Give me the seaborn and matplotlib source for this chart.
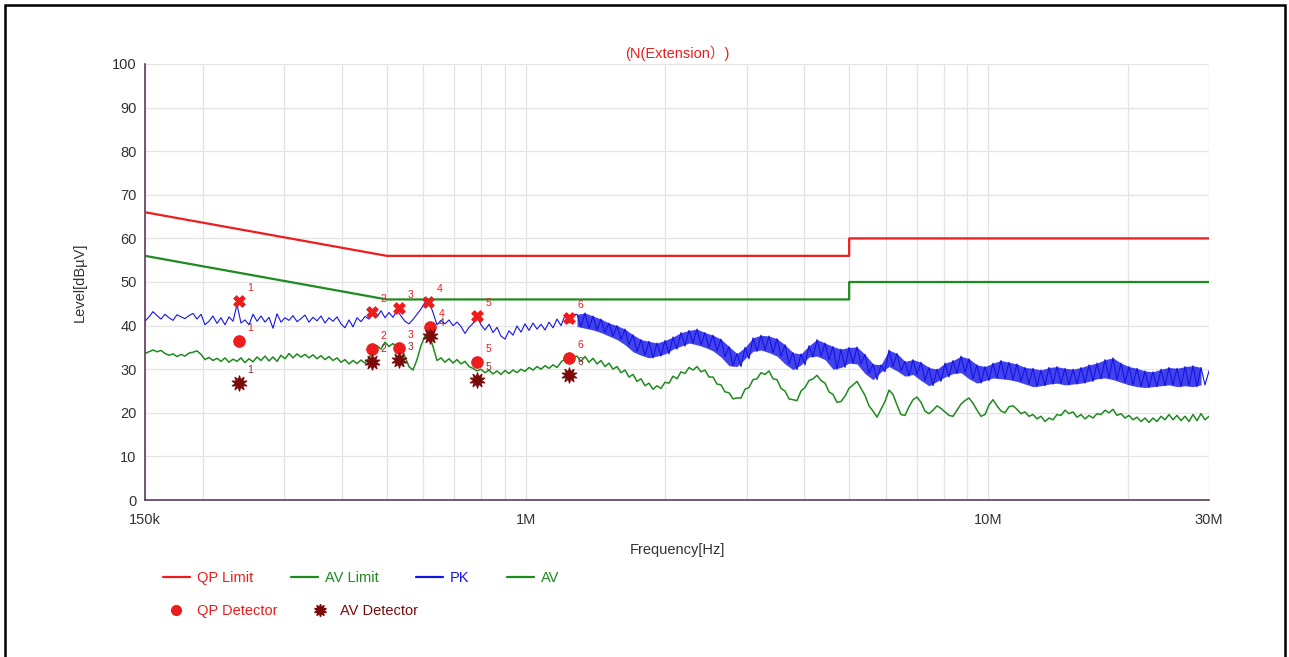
import numpy as np
import pandas as pd
import seaborn as sns
import matplotlib.pyplot as plt
from matplotlib.lines import Line2D
from matplotlib.patches import Rectangle
from matplotlib.ticker import FixedLocator, FixedFormatter, NullFormatter

# limit lines (MHz, dBuV)
lim_freq = [0.15, 0.5, 5.0, 5.0, 30.0]
qp_limit = [66, 56, 56, 60, 60]
av_limit = [56, 46, 46, 50, 50]

# sweep traces, 150 kHz .. 30 MHz on a log sweep
pk_level = [
    41.0, 42.0, 43.2, 42.3, 41.5, 42.6, 41.8, 41.2, 42.5, 42.0,
    41.6, 42.3, 42.8, 41.5, 42.6, 40.2, 41.0, 42.2, 40.5, 41.8,
    40.2, 42.0, 41.0, 44.8, 40.6, 41.3, 40.2, 42.6, 41.0, 42.2,
    40.8, 41.9, 39.4, 42.7, 40.8, 41.8, 41.2, 42.3, 40.9, 41.6,
    42.4, 40.8, 41.9, 41.1, 42.2, 40.6, 41.8, 41.0, 42.0, 40.4,
    39.5, 41.3, 39.7, 41.8, 40.9, 42.1, 41.5, 42.9, 42.0, 43.4,
    41.8, 43.0, 41.9, 43.5, 42.2, 41.0, 40.4, 41.4, 42.6, 43.8,
    45.3, 45.5, 43.0, 40.2, 41.2, 40.4, 41.3, 40.0, 40.8, 39.8,
    38.2, 39.6, 40.5, 42.0, 40.2, 39.0, 40.3, 38.4, 39.6, 37.6,
    36.9, 38.8, 37.8, 39.9, 38.5, 40.4, 38.9, 40.6, 39.2, 40.3,
    39.0, 40.8, 39.5, 41.5, 40.0, 42.3, 40.6, 42.5, 42.6, 39.8,
    42.9, 39.4, 42.2, 39.0, 41.5, 38.4, 40.6, 37.6, 40.0, 36.8,
    39.2, 35.6, 37.9, 34.0, 36.8, 33.2, 36.4, 32.6, 36.0, 33.0,
    36.6, 33.5, 37.4, 34.6, 38.4, 35.3, 38.9, 36.0, 39.2, 35.6,
    38.4, 35.0, 37.8, 34.2, 36.9, 32.8, 35.2, 30.8, 33.6, 30.6,
    35.0, 32.4, 37.2, 34.1, 37.8, 34.4, 37.6, 33.8, 37.0, 33.0,
    35.6, 31.2, 33.8, 29.9, 33.5, 31.0, 35.4, 32.8, 36.8, 33.0,
    36.0, 32.2, 35.2, 30.0, 34.6, 30.4, 35.0, 31.4, 35.1, 31.2,
    33.4, 29.0, 31.2, 27.6, 31.0, 29.4, 34.4, 30.6, 33.6, 29.6,
    31.8, 28.4, 32.2, 28.8, 31.6, 27.4, 30.4, 26.2, 30.0, 27.2,
    31.4, 28.2, 32.0, 29.0, 33.0, 29.2, 32.4, 27.8, 31.0, 26.8,
    30.6, 27.4, 31.4, 28.0, 32.0, 27.8, 31.6, 27.6, 31.2, 27.2,
    30.4, 26.6, 30.2, 26.0, 29.8, 26.2, 30.4, 26.6, 30.6, 26.8,
    30.2, 26.4, 30.0, 26.6, 30.4, 26.8, 31.0, 27.2, 31.4, 27.8,
    32.2, 28.0, 32.6, 27.6, 31.4, 27.0, 30.6, 26.4, 30.2, 26.0,
    29.6, 25.8, 29.4, 26.0, 30.0, 26.2, 30.4, 26.4, 30.2, 26.0,
    30.6, 26.2, 30.8, 26.0, 30.4, 26.4, 29.6,
]
av_level = [
    33.6, 34.0, 34.4, 34.0, 34.3, 33.6, 33.2, 33.5, 32.9, 33.4,
    33.0, 33.7, 33.9, 34.2, 33.4, 32.2, 32.7, 32.0, 32.5, 31.8,
    32.6, 31.6, 32.3, 31.8, 32.6, 31.5, 32.4, 31.7, 32.8, 32.0,
    33.0, 31.9, 32.8, 31.8, 33.2, 32.4, 33.6, 32.6, 33.5, 32.8,
    33.4, 32.6, 33.3, 32.4, 33.1, 32.2, 32.9, 32.0, 32.6, 31.6,
    32.2, 31.2, 32.0, 31.3, 32.1, 31.4, 32.6, 34.0, 35.4, 34.6,
    36.2, 35.2, 35.9, 34.8, 35.0, 32.8, 30.6, 29.8, 32.2, 35.4,
    37.6, 38.0, 35.2, 32.0, 32.6, 31.6, 32.4, 31.4, 32.2, 31.2,
    31.8, 30.6, 30.2, 29.6, 30.0, 29.2, 29.8, 28.9, 29.6, 28.8,
    29.7, 29.0, 29.8, 29.2, 30.0, 29.5, 30.4, 29.8, 30.6, 30.0,
    30.8, 30.2, 31.0, 30.4, 31.6, 32.4, 31.8, 32.8, 33.0, 31.8,
    32.9, 31.6, 32.5, 31.2, 32.0, 30.6, 31.4, 30.0, 30.6, 29.2,
    29.8, 28.2, 28.8, 27.2, 27.8, 26.2, 26.8, 25.4, 26.2, 25.6,
    27.0, 26.8, 28.4, 27.8, 29.4, 29.0, 30.4, 29.8, 30.6, 29.4,
    29.8, 28.2, 28.2, 26.6, 26.4, 24.8, 24.6, 23.2, 23.4, 23.4,
    25.4, 25.8, 27.6, 27.8, 29.2, 28.8, 29.6, 27.8, 27.6, 25.6,
    25.0, 23.2, 23.0, 22.8, 25.0, 25.8, 27.4, 27.8, 28.6, 27.4,
    26.8, 24.8, 24.2, 22.4, 22.6, 23.8, 25.6, 26.4, 27.2, 25.6,
    24.0, 21.6, 20.4, 19.0, 20.8, 22.6, 25.2, 24.2, 21.8, 19.6,
    19.4, 21.4, 23.0, 23.6, 22.4, 20.4, 19.8, 20.6, 21.6, 21.0,
    20.2, 19.4, 19.2, 20.6, 22.0, 22.8, 23.4, 22.2, 20.6, 19.2,
    19.6, 21.8, 23.0, 21.6, 20.4, 20.0, 21.4, 21.6, 20.8, 19.8,
    20.2, 19.2, 19.6, 18.6, 19.2, 18.0, 18.8, 18.4, 19.6, 19.4,
    20.6, 19.8, 20.2, 19.0, 19.6, 18.6, 19.4, 18.8, 19.8, 19.6,
    20.6, 20.0, 20.8, 19.4, 19.8, 18.8, 19.4, 18.4, 19.0, 18.0,
    18.8, 17.8, 18.8, 18.0, 19.2, 18.4, 19.6, 18.4, 19.4, 18.2,
    19.2, 18.0, 19.6, 18.2, 19.8, 18.4, 19.2,
]

# final measurement points (MHz, dBuV)
pk_freq = [0.2395, 0.464, 0.531, 0.614, 0.783, 1.239]
pk_peak = [45.6, 43.1, 44.0, 45.4, 42.2, 41.7]
det_freq = [0.2395, 0.464, 0.531, 0.620, 0.783, 1.239]
qp_det = [36.5, 34.6, 34.9, 39.7, 31.7, 32.6]
av_det = [26.8, 31.7, 32.1, 37.6, 27.5, 28.7]

RED = '#ee1c1c'
GREEN = '#1f8a1f'
BLUE = '#1414e6'
DARKRED = '#7a0a0a'
AXC = '#5a3d5a'

sns.set_theme(style='white')
plt.rcParams['font.family'] = ['Liberation Sans', 'Noto Sans CJK SC', 'DejaVu Sans']

W, H = 1289, 657
fig = plt.figure(figsize=(W / 100, H / 100), dpi=100)
ax = fig.add_axes([145 / W, 1 - 500 / H, 1064 / W, 436 / H])
ax.set_xscale('log')

sweep = pd.DataFrame({'f': np.geomspace(0.15e6, 30e6, len(pk_level)),
                      'PK': pk_level, 'AV': av_level})
lims = pd.DataFrame({'f': [f * 1e6 for f in lim_freq], 'QP': qp_limit, 'AVL': av_limit})

sns.lineplot(data=sweep, x='f', y='PK', color=BLUE, lw=0.8, ax=ax, sort=False,
             estimator=None, zorder=2)
# dense noise band above ~1.3 MHz: fill between the alternating peaks and dips
hi = sweep.iloc[108::2]
lo = sweep.iloc[109::2]
n = min(len(hi), len(lo))
ax.fill_between(hi['f'].values[:n], hi['PK'].values[:n], lo['PK'].values[:n],
                color=BLUE, alpha=0.8, lw=0, zorder=2)
sns.lineplot(data=sweep, x='f', y='AV', color=GREEN, lw=1.1, ax=ax, sort=False,
             estimator=None, zorder=2)
sns.lineplot(data=lims, x='f', y='QP', color=RED, lw=1.6, ax=ax, sort=False,
             estimator=None, zorder=3)
sns.lineplot(data=lims, x='f', y='AVL', color=GREEN, lw=1.6, ax=ax, sort=False,
             estimator=None, zorder=3)

pk_x = [f * 1e6 for f in pk_freq]
det_x = [f * 1e6 for f in det_freq]
sns.scatterplot(x=pk_x, y=pk_peak, marker='X', s=70, color=RED, edgecolor=RED, ax=ax, zorder=5)
sns.scatterplot(x=det_x, y=qp_det, marker='o', s=70, color=RED, edgecolor=RED, ax=ax, zorder=5)
sns.scatterplot(x=det_x, y=av_det, marker=(10, 1, 0), s=120, color=DARKRED, edgecolor=DARKRED,
                ax=ax, zorder=5)

for i in range(len(pk_x)):
    ax.annotate(str(i + 1), (pk_x[i], pk_peak[i]), xytext=(6, 7), textcoords='offset points',
                fontsize=7.5, color=RED)
    ax.annotate(str(i + 1), (det_x[i], qp_det[i]), xytext=(6, 7), textcoords='offset points',
                fontsize=7.5, color=RED)
    ax.annotate(str(i + 1), (det_x[i], av_det[i]), xytext=(6, 7), textcoords='offset points',
                fontsize=7.5, color='#8b2a2a')

ax.set_xlim(0.15e6, 30e6)
ax.set_ylim(0, 100)
ax.set_yticks(range(0, 101, 10))
ax.xaxis.set_major_locator(FixedLocator([150e3, 1e6, 10e6, 30e6]))
ax.xaxis.set_major_formatter(FixedFormatter(['150k', '1M', '10M', '30M']))
ax.xaxis.set_minor_locator(FixedLocator([2e5, 3e5, 4e5, 5e5, 6e5, 7e5, 8e5, 9e5,
                                         2e6, 3e6, 4e6, 5e6, 6e6, 7e6, 8e6, 9e6, 2e7]))
ax.xaxis.set_minor_formatter(NullFormatter())
ax.grid(True, which='both', color='#e4e4e4', lw=0.9)
ax.set_axisbelow(True)
ax.tick_params(axis='both', which='both', direction='inout', length=6, width=1,
               color=AXC, labelcolor='#333333', labelsize=10.5)
ax.tick_params(axis='x', which='both', pad=6)
ax.tick_params(axis='y', which='both', pad=3)
for s in ['top', 'right']:
    ax.spines[s].set_visible(False)
for s in ['left', 'bottom']:
    ax.spines[s].set_color(AXC)
    ax.spines[s].set_linewidth(1.2)

ax.set_xlabel('Frequency[Hz]', fontsize=10.5, color='#333333', labelpad=12)
ax.set_ylabel('Level[dBµV]', fontsize=10.5, color='#333333', labelpad=18)
ax.set_title('(N(Extension）)', fontsize=10.5, color=RED, pad=4)

line_handles = [Line2D([], [], color=RED, lw=1.6), Line2D([], [], color=GREEN, lw=1.6),
                Line2D([], [], color=BLUE, lw=1.6), Line2D([], [], color=GREEN, lw=1.6)]
fig.legend(line_handles, ['QP Limit', 'AV Limit', 'PK', 'AV'], loc='center left',
           bbox_to_anchor=(163 / W, 1 - 578 / H), ncol=4, frameon=False, fontsize=10.5,
           handlelength=1.85, handletextpad=0.5, columnspacing=2.55, borderpad=0,
           borderaxespad=0, labelcolor=[RED, GREEN, BLUE, GREEN])
det_handles = [Line2D([], [], marker='o', ls='', color=RED, ms=7),
               Line2D([], [], marker=(10, 1, 0), ls='', color=DARKRED, ms=9)]
fig.legend(det_handles, ['QP Detector', 'AV Detector'], loc='center left',
           bbox_to_anchor=(163 / W, 1 - 611 / H), ncol=2, frameon=False, fontsize=10.5,
           handlelength=1.85, handletextpad=0.5, columnspacing=1.95, borderpad=0,
           borderaxespad=0, labelcolor=[RED, DARKRED])

fig.patches.append(Rectangle((5 / W, -0.05), 1280 / W, 1.05 - 5 / H, transform=fig.transFigure,
                             fill=False, edgecolor='black', lw=1.8))

fig.savefig('out.png', dpi=100)
plt.close()
